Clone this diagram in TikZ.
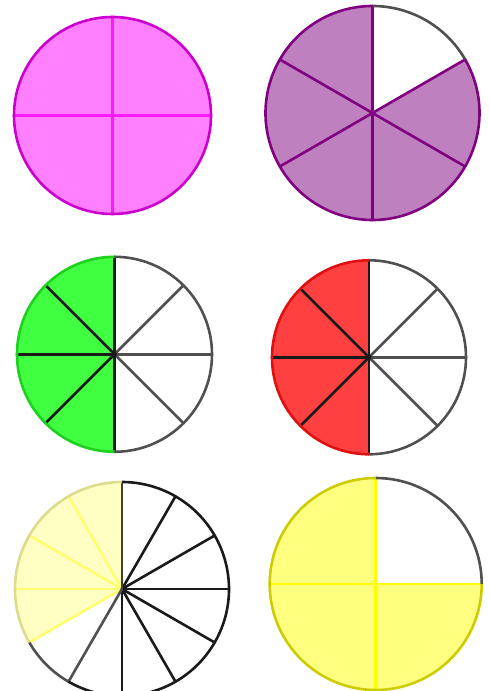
\documentclass[tikz,border=0pt]{standalone}
\usepackage{xcolor}
\usepackage{tikz}
\definecolor{pinkfill}{HTML}{FF80FF}
\definecolor{pinkline}{HTML}{FF1AFF}
\definecolor{pinkedge}{HTML}{CC00CC}
\definecolor{plumfill}{HTML}{BF80BF}
\definecolor{plumline}{HTML}{800080}
\definecolor{greenfill}{HTML}{40FF40}
\definecolor{greenedge}{HTML}{20D020}
\definecolor{redfill}{HTML}{FF4040}
\definecolor{rededge}{HTML}{E01010}
\definecolor{paleyellow}{HTML}{FFFFC4}
\definecolor{paleline}{HTML}{FFFF70}
\definecolor{paleedge}{HTML}{DCDC8C}
\definecolor{oliveline}{HTML}{404030}
\definecolor{yellowfill}{HTML}{FFFF80}
\definecolor{yellowline}{HTML}{FFFF00}
\definecolor{yellowedge}{HTML}{CCCC00}
\definecolor{rim}{HTML}{505050}
\definecolor{ink}{HTML}{1A1A1A}
\tikzset{
  rimline/.style={line width=2.6pt},
  spoke/.style={line width=2.6pt, line cap=round},
}

\begin{document}
\begin{tikzpicture}[x=1pt,y=1pt]
  \useasboundingbox (0,0) rectangle (489,691);
  \clip (0,0) rectangle (489,691);

  % four quarters, all shaded
  \coordinate (quarters) at (112.5,575.5);
  \fill[pinkfill] (quarters) circle[radius=98.5];
  \foreach \a in {0,90,180,270}
    \draw[spoke,pinkline] (quarters) -- ++(\a:98.5);
  \draw[rimline,pinkedge] (quarters) circle[radius=98.5];

  % five sixths
  \coordinate (sixths) at (372.5,578);
  \fill[plumfill] (sixths) -- ++(30:107) arc[start angle=30,end angle=-270,radius=107] -- cycle;
  \foreach \a in {90,30,...,-210}
    \draw[spoke,plumline] (sixths) -- ++(\a:107);
  \draw[rimline,rim] (sixths) ++(90:107) arc[start angle=90,end angle=30,radius=107];
  \draw[rimline,plumline] (sixths) ++(30:107) arc[start angle=30,end angle=-270,radius=107];

  % four eighths, green
  \coordinate (greeneighths) at (114.5,336.7);
  \fill[greenfill] (greeneighths) -- ++(90:97.5) arc[start angle=90,end angle=270,radius=97.5] -- cycle;
  \foreach \a in {-45,0,45}
    \draw[spoke,rim] (greeneighths) -- ++(\a:97.5);
  \foreach \a in {90,135,...,270}
    \draw[spoke,ink] (greeneighths) -- ++(\a:97.5);
  \draw[rimline,rim] (greeneighths) ++(-90:97.5) arc[start angle=-90,end angle=90,radius=97.5];
  \draw[rimline,greenedge] (greeneighths) ++(90:97.5) arc[start angle=90,end angle=270,radius=97.5];
  \fill[ink] (greeneighths) circle[radius=2.5];

  % four eighths, red
  \coordinate (redeighths) at (369,333.7);
  \fill[redfill] (redeighths) -- ++(90:97) arc[start angle=90,end angle=270,radius=97] -- cycle;
  \foreach \a in {-45,0,45}
    \draw[spoke,rim] (redeighths) -- ++(\a:97);
  \foreach \a in {90,135,...,270}
    \draw[spoke,ink] (redeighths) -- ++(\a:97);
  \draw[rimline,rim] (redeighths) ++(-90:97) arc[start angle=-90,end angle=90,radius=97];
  \draw[rimline,rededge] (redeighths) ++(90:97) arc[start angle=90,end angle=270,radius=97];
  \fill[ink] (redeighths) circle[radius=2.5];

  % four twelfths, pale
  \coordinate (twelfths) at (122,102);
  \fill[paleyellow] (twelfths) -- ++(90:107) arc[start angle=90,end angle=210,radius=107] -- cycle;
  \foreach \a in {120,150,180,210}
    \draw[spoke,paleline] (twelfths) -- ++(\a:107);
  \foreach \a in {-90,-60,...,60}
    \draw[spoke,ink] (twelfths) -- ++(\a:107);
  \draw[spoke,rim] (twelfths) -- ++(240:107);
  \draw[spoke,oliveline] (twelfths) -- ++(90:107);
  \draw[rimline,paleedge] (twelfths) ++(90:107) arc[start angle=90,end angle=210,radius=107];
  \draw[rimline,rim] (twelfths) ++(210:107) arc[start angle=210,end angle=240,radius=107];
  \draw[rimline,ink] (twelfths) ++(240:107) arc[start angle=240,end angle=450,radius=107];

  % three quarters
  \coordinate (threequarters) at (375.7,107);
  \fill[yellowfill] (threequarters) -- ++(0:106) arc[start angle=0,end angle=-270,radius=106] -- cycle;
  \foreach \a in {0,90,180,270}
    \draw[spoke,yellowline] (threequarters) -- ++(\a:106);
  \draw[rimline,rim] (threequarters) ++(0:106) arc[start angle=0,end angle=90,radius=106];
  \draw[rimline,yellowedge] (threequarters) ++(0:106) arc[start angle=0,end angle=-270,radius=106];
\end{tikzpicture}
\end{document}
